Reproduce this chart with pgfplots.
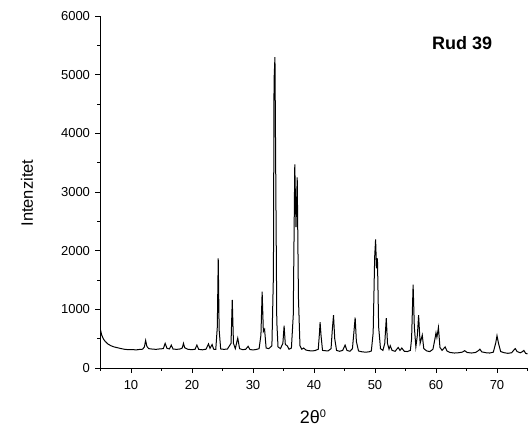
\documentclass[border=0pt]{standalone}
\usepackage{fontspec}
\setmainfont{Liberation Sans}
\usepackage{pgfplots}
\pgfplotsset{compat=1.18}
\begin{document}
\begin{tikzpicture}
\useasboundingbox (-100.5pt,-62pt) rectangle (430.5pt,368pt);
\begin{axis}[
  at={(0,0)}, anchor=south west,
  scale only axis, width=427pt, height=352pt,
  xmin=5, xmax=75, ymin=0, ymax=6000,
  axis lines*=left,
  axis line style={line width=0.8pt},
  tick align=outside,
  major tick length=5pt, minor tick length=3pt,
  tick style={black, line width=0.8pt},
  xtick={10,20,...,70}, minor xtick={5,15,...,75},
  ytick={0,1000,...,6000}, minor ytick={500,1500,...,5500},
  /pgf/number format/assume math mode=true,
  /pgf/number format/1000 sep={},
  scaled y ticks=false,
  xticklabel={\pgfmathprintnumber{\tick}},
  yticklabel={\pgfmathprintnumber{\tick}},
  yticklabel style={font=\fontsize{13}{15}\selectfont, xshift=-2pt},
  xticklabel style={font=\fontsize{13}{15}\selectfont, yshift=-4pt},
  every axis y label/.style={at={(axis description cs:-0.172,0.497)}, rotate=90, anchor=center, font=\fontsize{16.5}{18}\selectfont},
  every axis x label/.style={at={(axis description cs:0.498,-0.139)}, anchor=center, font=\fontsize{18}{20}\selectfont},
  xlabel={2θ\textsuperscript{\fontsize{11}{12}\selectfont 0}},
  ylabel={Intenzitet},
  clip=false,
]
\addplot[black, line width=1pt] coordinates {
(5.0,650) (5.2,560) (5.5,490) (5.8,450) (6.2,410) (6.7,380) (7.2,360) (7.8,345) (8.4,330) (9.0,318) (9.6,312) (10.2,315) (10.8,308) (11.4,316) (11.9,320) (12.2,360) (12.4,470) (12.6,370) (12.9,330) (13.5,322) (14.1,318) (14.7,325) (15.3,330) (15.6,420) (15.9,335) (16.3,325) (16.6,390) (16.9,322) (17.5,318) (18.1,325) (18.4,340) (18.6,420) (18.8,345) (19.3,320) (19.9,312) (20.5,318) (20.8,390) (21.1,318) (21.7,310) (22.3,320) (22.7,410) (22.95,335) (23.3,400) (23.55,320) (23.9,318) (24.15,700) (24.3,1870) (24.45,650) (24.7,325) (25.2,318) (25.8,322) (26.4,420) (26.6,1160) (26.8,420) (27.1,330) (27.5,510) (27.8,330) (28.3,312) (28.8,318) (29.2,370) (29.5,315) (30.0,308) (30.5,315) (31.0,330) (31.3,560) (31.5,1300) (31.7,620) (31.9,660) (32.15,340) (32.6,330) (33.1,380) (33.35,1600) (33.45,4900) (33.6,5300) (33.75,3000) (33.9,800) (34.1,360) (34.5,330) (34.9,420) (35.1,720) (35.3,400) (35.6,380) (35.9,320) (36.3,340) (36.6,900) (36.85,3470) (37.05,2400) (37.25,3250) (37.45,1200) (37.7,380) (38.0,320) (38.3,340) (38.7,305) (39.2,295) (39.7,290) (40.2,298) (40.7,320) (40.9,600) (41.0,780) (41.15,560) (41.4,300) (41.8,295) (42.3,290) (42.8,330) (43.0,650) (43.2,900) (43.4,500) (43.7,300) (44.2,285) (44.7,300) (45.1,390) (45.4,300) (45.9,285) (46.3,330) (46.5,560) (46.75,860) (46.95,450) (47.3,290) (47.9,275) (48.5,270) (49.0,275) (49.4,290) (49.7,600) (49.95,1900) (50.1,2190) (50.25,1700) (50.4,1870) (50.6,700) (50.9,330) (51.3,300) (51.6,420) (51.85,850) (52.05,420) (52.3,320) (52.5,380) (52.8,300) (53.3,285) (53.8,350) (54.1,300) (54.4,340) (54.8,285) (55.3,280) (55.8,300) (56.0,500) (56.25,1420) (56.45,700) (56.7,360) (56.95,560) (57.15,900) (57.4,420) (57.75,560) (58.0,330) (58.5,290) (59.0,280) (59.5,320) (59.8,480) (60.0,600) (60.15,520) (60.4,690) (60.65,350) (61.0,300) (61.5,360) (61.8,290) (62.3,265) (63.0,255) (63.7,260) (64.3,270) (64.7,295) (65.1,265) (65.8,255) (66.5,265) (67.0,300) (67.2,320) (67.5,275) (68.2,260) (68.8,255) (69.4,270) (69.8,430) (70.0,550) (70.25,420) (70.6,280) (71.2,260) (71.8,250) (72.4,260) (72.8,310) (73.0,330) (73.3,280) (73.8,260) (74.2,280) (74.4,300) (74.7,250) (75.0,240)
};
\node[font=\fontsize{18}{20}\selectfont\bfseries, anchor=center] at (axis cs:64.3,5540) {Rud 39};
\end{axis}
\end{tikzpicture}
\end{document}
